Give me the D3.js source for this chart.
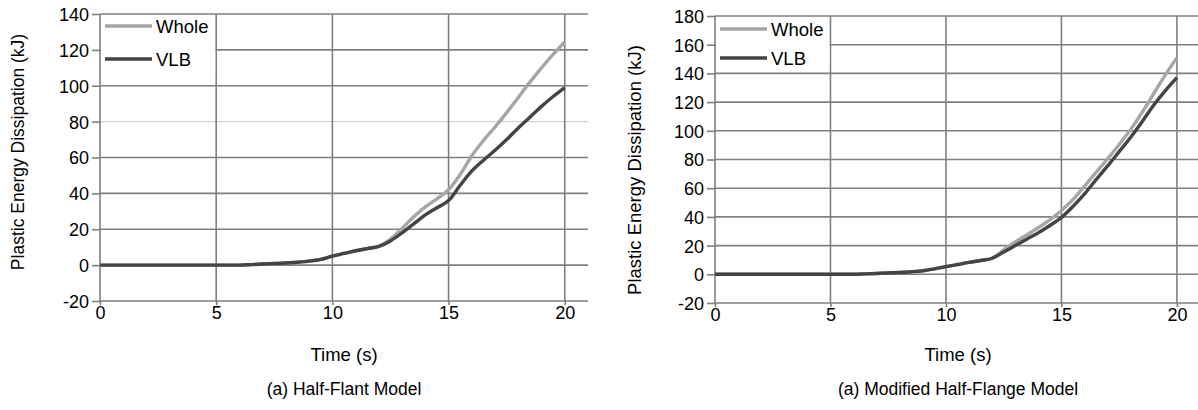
<!DOCTYPE html>
<meta charset="utf-8">
<style>
body { margin: 0; background: #fff; }
text { font-family: "Liberation Sans", Arial, sans-serif; fill: #000; }
.grid line { stroke: #7f7f7f; stroke-width: 1.6px; }
</style>
<svg width="1198" height="410"></svg>
<script src="https://d3js.org/d3.v7.min.js"></script>
<script>
// time (s) shared by every series
var time = [0, 1, 2, 3, 4, 5, 6, 6.5, 7, 7.5, 8, 8.5, 9, 9.5, 10, 10.5, 11, 11.5, 12,
            12.5, 13, 13.5, 14, 14.5, 15, 15.5, 16, 16.5, 17, 17.5, 18, 18.5, 19, 19.5, 20];

// (a) Half-Flant Model
var halfWhole = [0, 0, 0, 0, 0, 0, 0, 0.3, 0.6, 0.9, 1.2, 1.6, 2.2, 3.2, 5, 6.5, 8, 9.2, 10.5,
                 14.5, 20.5, 27, 32.5, 37, 42, 50.5, 61, 69.5, 77, 85, 93.5, 102, 110, 117.5, 124.4];
var halfVLB   = [0, 0, 0, 0, 0, 0, 0, 0.3, 0.6, 0.9, 1.2, 1.6, 2.2, 3.2, 5, 6.5, 8, 9.2, 10.5,
                 13.5, 18, 23, 28, 32, 36, 44.5, 52.5, 58.5, 64, 70, 76.5, 82.5, 88.5, 94, 99];

// (a) Modified Half-Flange Model
var modWhole = [0, 0, 0, 0, 0, 0, 0, 0.3, 0.6, 0.9, 1.3, 1.8, 2.5, 3.8, 5.3, 6.8, 8.3, 9.6, 11.2,
                17, 22.5, 27.5, 32.5, 38, 44.5, 52, 61.5, 71, 80.5, 90.5, 101, 113, 126, 139, 151];
var modVLB   = [0, 0, 0, 0, 0, 0, 0, 0.3, 0.6, 0.9, 1.3, 1.8, 2.5, 3.8, 5.3, 6.8, 8.3, 9.6, 11.2,
                15.5, 20, 24.5, 28.9, 34, 39.6, 47.3, 56, 66, 75.5, 85.5, 95.5, 106.5, 118, 128, 137];

var xTicks = [0, 5, 10, 15, 20];
var yTicksHalf = [-20, 0, 20, 40, 60, 80, 100, 120, 140];
var yTicksMod = [-20, 0, 20, 40, 60, 80, 100, 120, 140, 160, 180];
var seriesNames = ["Whole", "VLB"];
var seriesColors = ["#a6a6a6", "#444444"];

var svg = d3.select("svg");

function drawPanel(p) {
  var x = d3.scaleLinear().domain([0, 21]).range([p.left, p.right]);
  var y = d3.scaleLinear().domain([p.yTicks[0], p.yTicks[p.yTicks.length - 1]]).range([p.bottom, p.top]);
  var g = svg.append("g");

  // grid
  var grid = g.append("g").attr("class", "grid");
  grid.selectAll(".h").data(p.yTicks).enter().append("line")
      .attr("x1", p.left).attr("x2", p.right)
      .attr("y1", function(d) { return y(d); }).attr("y2", function(d) { return y(d); })
      .style("stroke", function(d) { return d === p.faint ? "#c8c8c8" : null; })
      .style("stroke-width", function(d) { return d === p.faint ? "1px" : null; });
  grid.selectAll(".v").data(xTicks).enter().append("line")
      .attr("y1", p.top).attr("y2", p.bottom)
      .attr("x1", function(d) { return x(d); }).attr("x2", function(d) { return x(d); });

  // axes
  var ya = g.append("g").attr("class", "grid")
      .attr("transform", "translate(" + p.left + ",0)")
      .call(d3.axisLeft(y).tickValues(p.yTicks).tickFormat(String).tickSize(8).tickPadding(3));
  var xa = g.append("g").attr("class", "grid")
      .attr("transform", "translate(0," + p.bottom + ")")
      .call(d3.axisBottom(x).tickValues(xTicks).tickFormat(String).tickSize(4).tickPadding(3));
  ya.select(".domain").remove();
  xa.select(".domain").remove();
  ya.attr("font-size", null).attr("font-family", null);
  xa.attr("font-size", null).attr("font-family", null);
  g.selectAll(".tick text").attr("fill", "#000").style("font-size", "18px");
  ya.selectAll(".tick text").attr("dy", "0.36em");
  xa.selectAll(".tick text").attr("dy", "0.6em");

  // legend background
  g.append("rect").attr("x", p.left + 1).attr("y", y(p.yTicks[p.yTicks.length - 2]) - 2)
      .attr("width", x(5) - p.left - 2).attr("height", y(p.legendLow) - y(p.yTicks[p.yTicks.length - 2]) - 6)
      .attr("fill", "#fff");

  // lines
  var line = d3.line()
      .x(function(d, i) { return x(time[i]); })
      .y(function(d) { return y(d); })
      .curve(d3.curveMonotoneX);
  [p.whole, p.vlb].forEach(function(vals, k) {
    g.append("path").datum(vals)
        .attr("fill", "none")
        .attr("stroke", seriesColors[k])
        .attr("stroke-width", 3.4)
        .attr("stroke-linejoin", "round")
        .attr("d", line);
  });

  // legend
  seriesNames.forEach(function(name, k) {
    var ly = p.legendY[k];
    g.append("line").attr("x1", p.left + 5).attr("x2", p.left + 52)
        .attr("y1", ly).attr("y2", ly)
        .attr("stroke", seriesColors[k]).attr("stroke-width", 3.4);
    g.append("text").attr("x", p.left + 56).attr("y", ly).attr("dy", "0.36em")
        .style("font-size", "18.5px").text(name);
  });

  // titles
  g.append("text")
      .attr("transform", "translate(" + p.ylabX + "," + p.ylabY + ") rotate(-90)")
      .attr("text-anchor", "middle").attr("dy", "0.36em")
      .style("font-size", p.ylabSize).text("Plastic Energy Dissipation (kJ)");
  g.append("text").attr("x", p.cx).attr("y", 354).attr("text-anchor", "middle")
      .attr("dy", "0.36em").style("font-size", "18.5px").text("Time (s)");
  g.append("text").attr("x", p.cx).attr("y", 389).attr("text-anchor", "middle")
      .attr("dy", "0.36em").style("font-size", "17.5px").text(p.title);
}

drawPanel({
  left: 100, right: 588, top: 14, bottom: 301,
  yTicks: yTicksHalf, whole: halfWhole, vlb: halfVLB, faint: 80,
  legendLow: 100, legendY: [26, 59],
  ylabX: 18, ylabY: 152, ylabSize: "17.5px", cx: 344, title: "(a) Half-Flant Model"
});
drawPanel({
  left: 715, right: 1200, top: 16, bottom: 303,
  yTicks: yTicksMod, whole: modWhole, vlb: modVLB, faint: null,
  legendLow: 140, legendY: [29, 58],
  ylabX: 634, ylabY: 170, ylabSize: "18.5px", cx: 958, title: "(a) Modified Half-Flange Model"
});
</script>
